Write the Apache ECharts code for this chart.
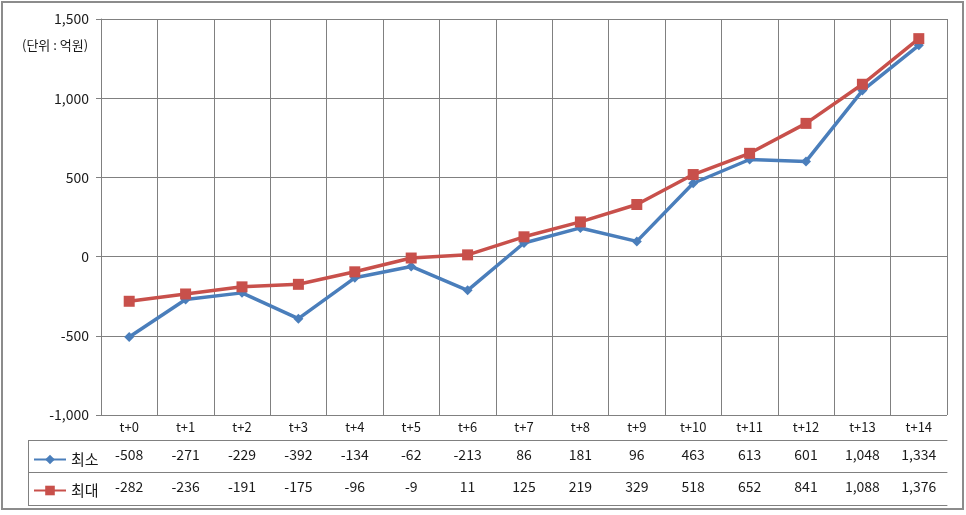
<!DOCTYPE html>
<html><head><meta charset="utf-8">
<script src="https://cdn.jsdelivr.net/npm/echarts@6/dist/echarts.min.js"></script>
<style>html,body{margin:0;padding:0;background:#fff}#c{width:966px;height:515px}</style>
</head><body><div id="c"></div><script>
const categories = ['t+0','t+1','t+2','t+3','t+4','t+5','t+6','t+7','t+8','t+9','t+10','t+11','t+12','t+13','t+14'];
const minValues = [-508,-271,-229,-392,-134,-62,-213,86,181,96,463,613,601,1048,1334];
const maxValues = [-282,-236,-191,-175,-96,-9,11,125,219,329,518,652,841,1088,1376];
const seriesNames = ['최소','최대'];
const yMin = -1000, yMax = 1500, yStep = 500;
const unitLabel = '(단위 : 억원)';

const fmt = v => Number(v).toLocaleString('en-US');
const FONT = '"Noto Sans CJK KR", "Noto Sans", sans-serif';
const GRID_COLOR = '#808080';
const TEXT = '#1a1a1a';
const BLUE = '#4a7ebb';
const RED = '#c8504b';

const chart = echarts.init(document.getElementById('c'), null, {renderer: 'canvas'});
const gridLeft = 101, gridRight = 19, gridTop = 19, gridBottom = 100;

const option = {
  backgroundColor: '#fff',
  animation: false,
  textStyle: {fontFamily: FONT},
  grid: {left: gridLeft, right: gridRight, top: gridTop, bottom: gridBottom, containLabel: false},
  legend: {
    orient: 'vertical', left: 28, top: 447, itemGap: 16,
    itemWidth: 32, itemHeight: 12,
    textStyle: {fontFamily: FONT, fontSize: 15, color: TEXT},
    data: seriesNames
  },
  xAxis: [
    {
      type: 'category', data: categories, boundaryGap: true, position: 'bottom',
      axisLine: {show: true, lineStyle: {color: GRID_COLOR, width: 1}},
      axisTick: {show: true, interval: 0, length: 90, inside: false, lineStyle: {color: GRID_COLOR}},
      axisLabel: {interval: 0, margin: 6, fontSize: 13, color: TEXT, fontFamily: FONT},
      splitLine: {show: true, interval: 0, lineStyle: {color: GRID_COLOR, width: 1}}
    },
    {
      type: 'category', data: minValues.map(fmt), position: 'bottom', offset: 25,
      axisLine: {show: true, lineStyle: {color: GRID_COLOR}},
      axisTick: {show: false},
      axisLabel: {interval: 0, margin: 8, fontSize: 14, color: TEXT, fontFamily: FONT},
      splitLine: {show: false}
    },
    {
      type: 'category', data: maxValues.map(fmt), position: 'bottom', offset: 57,
      axisLine: {show: true, lineStyle: {color: GRID_COLOR}},
      axisTick: {show: false},
      axisLabel: {interval: 0, margin: 8, fontSize: 14, color: TEXT, fontFamily: FONT},
      splitLine: {show: false}
    },
    {
      type: 'category', data: categories, position: 'bottom', offset: 90,
      axisLine: {show: true, lineStyle: {color: GRID_COLOR}},
      axisTick: {show: false},
      axisLabel: {show: false},
      splitLine: {show: false}
    }
  ],
  yAxis: {
    type: 'value', min: yMin, max: yMax, interval: yStep,
    axisLine: {show: true, lineStyle: {color: GRID_COLOR}},
    axisTick: {show: true, length: 5, lineStyle: {color: GRID_COLOR}},
    axisLabel: {formatter: v => fmt(v), fontSize: 14, color: TEXT, margin: 12, fontFamily: FONT},
    splitLine: {show: true, lineStyle: {color: GRID_COLOR, width: 1}}
  },
  series: [
    {
      name: seriesNames[0], type: 'line', data: minValues,
      symbol: 'diamond', symbolSize: 10,
      lineStyle: {color: BLUE, width: 3.5},
      itemStyle: {color: BLUE}
    },
    {
      name: seriesNames[1], type: 'line', data: maxValues,
      symbol: 'rect', symbolSize: 11,
      lineStyle: {color: RED, width: 3.5},
      itemStyle: {color: RED}
    }
  ],
  graphic: [
    {type: 'rect', shape: {x: 2, y: 2, width: 961, height: 507}, style: {fill: 'none', stroke: '#8c8c8c', lineWidth: 2}, silent: true},
    {type: 'text', x: 22, y: 39, style: {text: unitLabel, fontSize: 13, fill: TEXT, fontFamily: FONT}},
    {type: 'line', shape: {x1: 28, y1: 440.5, x2: gridLeft, y2: 440.5}, style: {stroke: GRID_COLOR, lineWidth: 1}},
    {type: 'line', shape: {x1: 28, y1: 472.5, x2: gridLeft, y2: 472.5}, style: {stroke: GRID_COLOR, lineWidth: 1}},
    {type: 'line', shape: {x1: 28, y1: 505.5, x2: gridLeft, y2: 505.5}, style: {stroke: GRID_COLOR, lineWidth: 1}},
    {type: 'line', shape: {x1: 28.5, y1: 440, x2: 28.5, y2: 506}, style: {stroke: GRID_COLOR, lineWidth: 1}}
  ]
};
chart.setOption(option);
</script></body></html>
